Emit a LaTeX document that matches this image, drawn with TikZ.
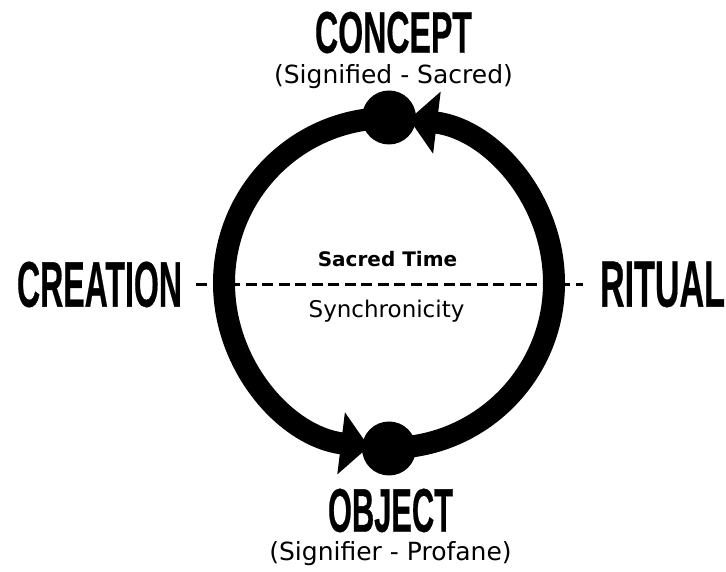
\documentclass[tikz,border=0pt]{standalone}
\usepackage{fontspec}
\setmainfont{DejaVu Sans}
\newfontfamily\displayfont{Liberation Sans Bold}[FakeBold=0.6]
\usetikzlibrary{arrows.meta, positioning}

\begin{document}
\begin{tikzpicture}[x=1pt, y=1pt,
  ring/.style={line width=22pt, draw=black},
  flow/.style={-{Triangle[width=61pt, length=28pt]}},
  hub/.style={circle, fill=black, inner sep=0pt, minimum size=54pt},
  word/.style={inner sep=0pt},
  caption/.style={inner sep=0pt, font=\fontsize{25}{30}\selectfont},
  axis/.style={line width=2.2pt, dash pattern=on 11pt off 5.5pt}]
\useasboundingbox (0,0) rectangle (726,572);
\coordinate (c) at (389,289);

\node (concept) [word] at (393.5,539.5) {\resizebox{157pt}{41pt}{\displayfont CONCEPT}};
\node (signified) [caption, below=11pt of concept] {(Signified - Sacred)};
\node (object) [word] at (390.5,61.5) {\resizebox{125pt}{43pt}{\displayfont OBJECT}};
\node (signifier) [caption, below=9pt of object] {(Signifier - Profane)};
\node (creation) [word] at (99.5,287.5) {\resizebox{165pt}{45pt}{\displayfont CREATION}};
\node (ritual) [word] at (662.5,287.5) {\resizebox{125pt}{45pt}{\displayfont RITUAL}};

\draw[axis, shorten <=14pt, shorten >=17pt] (creation) -- (ritual);
\node (time) [inner sep=0pt, anchor=base, font=\fontsize{20}{24}\selectfont\bfseries] at (387.5,305) {Sacred Time};
\node (sync) [inner sep=0pt, anchor=base, font=\fontsize{23}{28}\selectfont] at (386.5,254) {Synchronicity};

% the cycle
\draw[ring, flow] (c) ++(-90:165) arc[start angle=-90, end angle=83, radius=165];
\draw[ring, flow] (c) ++(90:165) arc[start angle=90, end angle=263, radius=165];
\node (top) [hub] at (389,454.5) {};
\node (bottom) [hub] at (389,123.5) {};
\end{tikzpicture}
\end{document}
